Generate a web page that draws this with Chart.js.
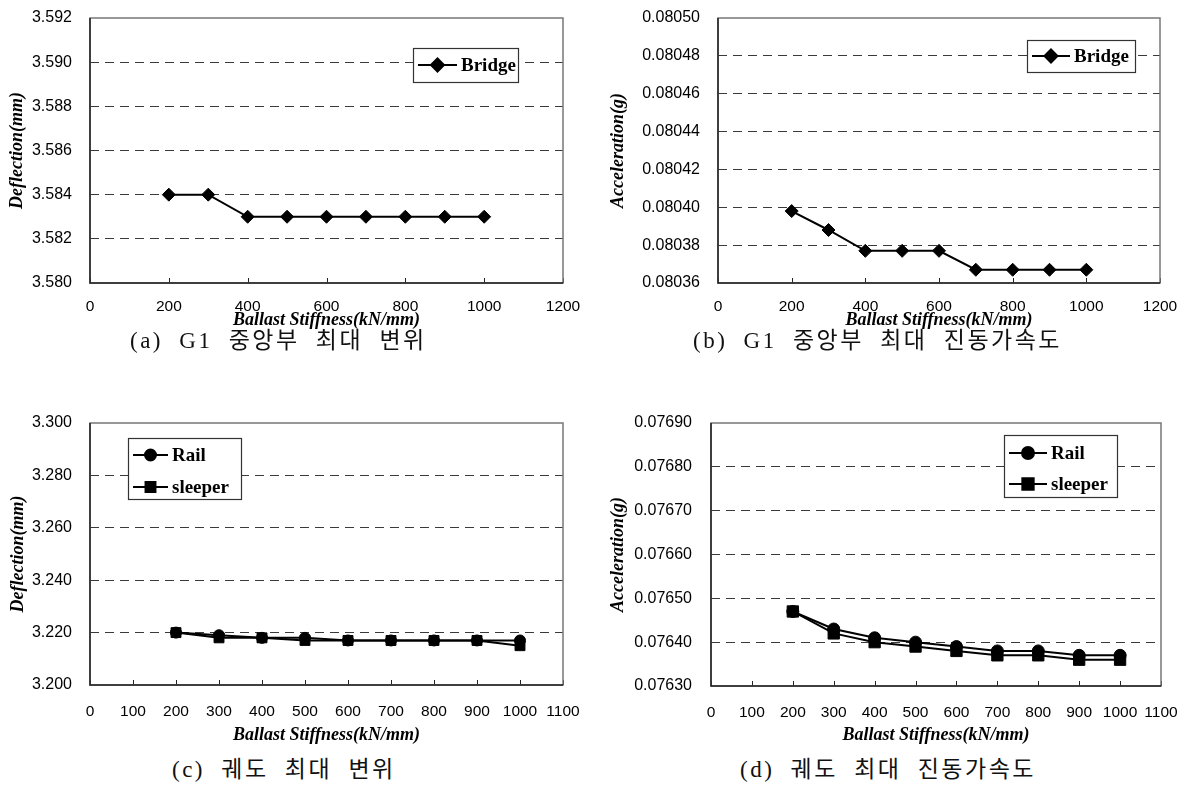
<!DOCTYPE html>
<html>
<head>
<meta charset="utf-8">
<script src="https://cdn.jsdelivr.net/npm/chart.js@4.4.0/dist/chart.umd.min.js"></script>
<style>
    body { margin: 0; background: #fff; width: 1188px; height: 791px; position: relative; overflow: hidden; }
    .panel { position: absolute; }
    .caption {
        position: absolute;
        font-family: "Liberation Serif", "Noto Sans CJK KR", serif;
        font-size: 23px;
        line-height: 30px;
        color: #111;
        white-space: pre;
        letter-spacing: 2.5px;
        word-spacing: 8px;
    }
</style>
</head>
<body>
<div class="panel" style="left:0;top:0;width:580px;height:333px"><canvas id="chartA"></canvas></div>
<div class="panel" style="left:590px;top:0;width:590px;height:333px"><canvas id="chartB"></canvas></div>
<div class="panel" style="left:0;top:390px;width:580px;height:358px"><canvas id="chartC"></canvas></div>
<div class="panel" style="left:590px;top:390px;width:590px;height:358px"><canvas id="chartD"></canvas></div>

<div class="caption" style="left:130px;top:326px">(a) G1 중앙부 최대 변위</div>
<div class="caption" style="left:693px;top:326px">(b) G1 중앙부 최대 진동가속도</div>
<div class="caption" style="left:172px;top:755px">(c) 궤도 최대 변위</div>
<div class="caption" style="left:740px;top:755px">(d) 궤도 최대 진동가속도</div>

<script>
// ballast stiffness (kN/mm) used on every panel
const stiffness = [200, 300, 400, 500, 600, 700, 800, 900, 1000];

// (a) G1 midspan deflection (mm)
const bridgeDeflection = [3.584, 3.584, 3.583, 3.583, 3.583, 3.583, 3.583, 3.583, 3.583];
// (b) G1 midspan acceleration (g)
const bridgeAccel = [0.080398, 0.080388, 0.080377, 0.080377, 0.080377, 0.080367, 0.080367, 0.080367, 0.080367];
// (c) track deflection (mm)
const railDeflection = [3.220, 3.219, 3.218, 3.218, 3.217, 3.217, 3.217, 3.217, 3.217];
const sleeperDeflection = [3.220, 3.218, 3.218, 3.217, 3.217, 3.217, 3.217, 3.217, 3.215];
// (d) track acceleration (g)
const railAccel = [0.07647, 0.07643, 0.07641, 0.07640, 0.07639, 0.07638, 0.07638, 0.07637, 0.07637];
const sleeperAccel = [0.07647, 0.07642, 0.07640, 0.07639, 0.07638, 0.07637, 0.07637, 0.07636, 0.07636];

// axis ranges / tick labels
const xTopRange = { min: 0, max: 1200, step: 200 };
const xBottomRange = { min: 0, max: 1100, step: 100 };
const yDeflTop = { min: 3.580, max: 3.592, step: 0.002, digits: 3 };
const yAccelTop = { min: 0.08036, max: 0.08050, step: 0.00002, digits: 5 };
const yDeflBottom = { min: 3.200, max: 3.300, step: 0.020, digits: 3 };
const yAccelBottom = { min: 0.07630, max: 0.07690, step: 0.0001, digits: 5 };

const xTitle = "Ballast Stiffness(kN/mm)";
const seriesBridge = "Bridge";
const seriesRail = "Rail";
const seriesSleeper = "sleeper";

Chart.defaults.font.family = "'Liberation Sans', Arial, sans-serif";
Chart.defaults.color = "#000";

const toPoints = (ys) => stiffness.map((x, i) => ({ x, y: ys[i] }));

// box around the plot area plus small inward ticks on the x axis
const plotFrame = {
    id: "plotFrame",
    beforeDatasetsDraw(chart) {
        const { ctx, chartArea: a, scales } = chart;
        ctx.save();
        ctx.strokeStyle = "#222";
        ctx.lineWidth = 1;
        scales.x.ticks.forEach((t) => {
            const px = Math.round(scales.x.getPixelForValue(t.value)) + 0.5;
            ctx.beginPath();
            ctx.moveTo(px, a.bottom);
            ctx.lineTo(px, a.bottom - 5);
            ctx.stroke();
        });
        ctx.strokeStyle = "#777";
        ctx.lineWidth = 1.5;
        ctx.strokeRect(a.left, a.top, a.right - a.left, a.bottom - a.top);
        ctx.strokeStyle = "#222";
        ctx.beginPath();
        ctx.moveTo(a.left, a.top);
        ctx.lineTo(a.left, a.bottom);
        ctx.lineTo(a.right, a.bottom);
        ctx.stroke();
        ctx.restore();
    }
};

// framed legend sitting inside the plot area
const boxLegend = {
    id: "boxLegend",
    afterDraw(chart, args, opts) {
        const { ctx } = chart;
        ctx.save();
        ctx.fillStyle = "#fff";
        ctx.fillRect(opts.x, opts.y, opts.w, opts.h);
        ctx.strokeStyle = "#333";
        ctx.lineWidth = 1.2;
        ctx.strokeRect(opts.x + 0.5, opts.y + 0.5, opts.w, opts.h);
        ctx.font = "bold 19px 'Liberation Serif', serif";
        ctx.textBaseline = "middle";
        chart.data.datasets.forEach((ds, i) => {
            const cy = opts.y + opts.row0 + i * opts.rowGap;
            const x0 = opts.x + opts.line0;
            const x1 = opts.x + opts.line1;
            ctx.strokeStyle = "#000";
            ctx.lineWidth = 2;
            ctx.beginPath();
            ctx.moveTo(x0, cy);
            ctx.lineTo(x1, cy);
            ctx.stroke();
            ctx.fillStyle = "#000";
            Chart.helpers.drawPoint(ctx, {
                pointStyle: ds.pointStyle,
                radius: ds.pointRadius,
                rotation: 0,
                borderWidth: 1
            }, (x0 + x1) / 2, cy);
            ctx.fillStyle = "#000";
            ctx.fillText(ds.label, x1 + 4, cy + 1);
        });
        ctx.restore();
    }
};

const makeDataset = (label, values, style, radius, order) => ({
    label,
    data: toPoints(values),
    borderColor: "#000",
    backgroundColor: "#000",
    pointBackgroundColor: "#000",
    pointBorderColor: "#000",
    borderWidth: 2,
    pointStyle: style,
    pointRadius: radius,
    pointBorderWidth: 1,
    tension: 0,
    order
});

const titleFont = { family: "'Liberation Serif', serif", size: 18, weight: "bold", style: "italic" };

const buildChart = (id, datasets, cfg) => {
    const yr = cfg.y;
    const xr = cfg.x;
    return new Chart(document.getElementById(id), {
        type: "line",
        data: { datasets },
        options: {
            responsive: true,
            maintainAspectRatio: false,
            animation: false,
            events: [],
            layout: { padding: { top: cfg.padTop, right: cfg.padRight, left: 0, bottom: 0 } },
            plugins: {
                legend: { display: false },
                tooltip: { enabled: false },
                boxLegend: cfg.legend
            },
            scales: {
                x: {
                    type: "linear",
                    min: xr.min,
                    max: xr.max,
                    afterFit: (s) => {
                        s.height = cfg.xHeight;
                        s.paddingLeft = 0;
                        s.paddingRight = 0;
                    },
                    ticks: {
                        stepSize: xr.step,
                        padding: cfg.xTickPad,
                        maxRotation: 0,
                        autoSkip: false,
                        font: { size: 15.5 },
                        callback: (v) => String(v)
                    },
                    grid: { display: false, drawTicks: false },
                    border: { display: false },
                    title: {
                        display: true,
                        text: xTitle,
                        padding: { top: 0, bottom: 2 },
                        font: titleFont
                    }
                },
                y: {
                    min: yr.min,
                    max: yr.max,
                    afterFit: (s) => {
                        s.width = cfg.yWidth;
                        s.paddingTop = 0;
                        s.paddingBottom = 0;
                    },
                    ticks: {
                        stepSize: yr.step,
                        padding: cfg.yTickPad,
                        font: { size: 16 },
                        callback: (v) => Number(v).toFixed(yr.digits)
                    },
                    grid: {
                        drawTicks: false,
                        color: (c) => (c.index === 0 || c.index === c.chart.scales.y.ticks.length - 1) ? "rgba(0,0,0,0)" : "#3a3a3a",
                        lineWidth: 1
                    },
                    border: { display: false, dash: [9, 6] },
                    title: {
                        display: true,
                        text: cfg.yTitle,
                        padding: { top: cfg.yTitlePad, bottom: 0 },
                        font: titleFont
                    }
                }
            }
        },
        plugins: [plotFrame, boxLegend]
    });
};

buildChart("chartA", [makeDataset(seriesBridge, bridgeDeflection, "rectRot", 6.5, 0)], {
    x: xTopRange, y: yDeflTop, yTitle: "Deflection(mm)",
    padTop: 18, padRight: 17, xHeight: 50, yWidth: 90, xTickPad: 14, yTickPad: 18, yTitlePad: 7,
    legend: { x: 413, y: 48, w: 105, h: 34, row0: 17, rowGap: 0, line0: 5, line1: 44 }
});

buildChart("chartB", [makeDataset(seriesBridge, bridgeAccel, "rectRot", 6.5, 0)], {
    x: xTopRange, y: yAccelTop, yTitle: "Acceleration(g)",
    padTop: 18, padRight: 20, xHeight: 50, yWidth: 128, xTickPad: 14, yTickPad: 18, yTitlePad: 18,
    legend: { x: 437, y: 40, w: 108, h: 32, row0: 16, rowGap: 0, line0: 5, line1: 43 }
});

buildChart("chartC", [
    makeDataset(seriesRail, railDeflection, "circle", 5.5, 1),
    makeDataset(seriesSleeper, sleeperDeflection, "rect", 7, 0)
], {
    x: xBottomRange, y: yDeflBottom, yTitle: "Deflection(mm)",
    padTop: 33, padRight: 17, xHeight: 63, yWidth: 90, xTickPad: 17, yTickPad: 18, yTitlePad: 8,
    legend: { x: 128, y: 48, w: 113, h: 61, row0: 17, rowGap: 32, line0: 5, line1: 40 }
});

buildChart("chartD", [
    makeDataset(seriesRail, railAccel, "circle", 6, 1),
    makeDataset(seriesSleeper, sleeperAccel, "rect", 8, 0)
], {
    x: xBottomRange, y: yAccelBottom, yTitle: "Acceleration(g)",
    padTop: 33, padRight: 19, xHeight: 62, yWidth: 121, xTickPad: 17, yTickPad: 19, yTitlePad: 18,
    legend: { x: 414, y: 45, w: 113, h: 62, row0: 18, rowGap: 31, line0: 5, line1: 43 }
});
</script>
</body>
</html>
